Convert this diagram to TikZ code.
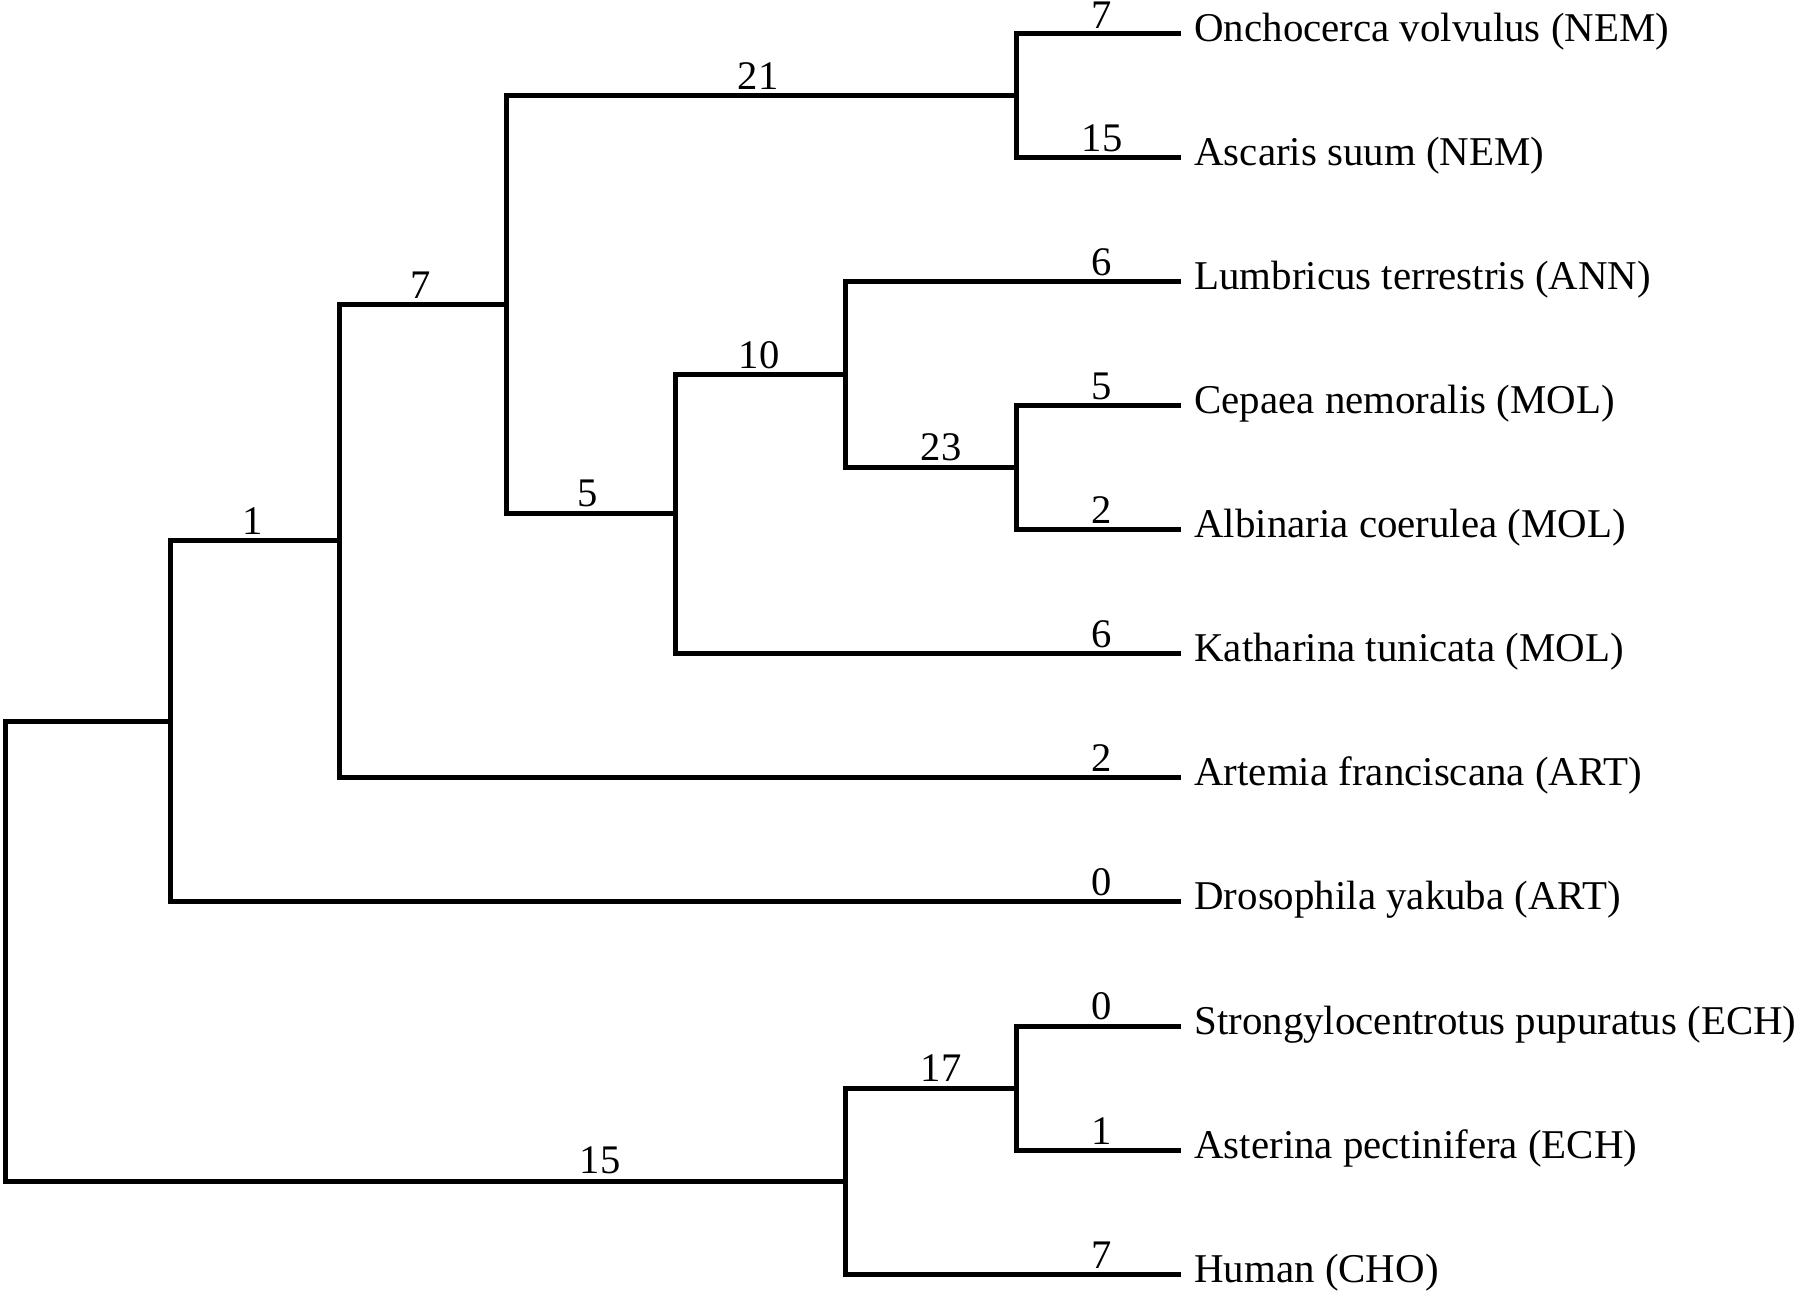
\documentclass[tikz,border=0pt]{standalone}
\usepackage{fontspec}
\setmainfont{Liberation Serif}
\begin{document}
\begin{tikzpicture}[x=0.5pt,y=-0.5pt,
  br/.style={line width=2.5pt, line join=miter},
  leaflab/.style={anchor=base west, inner sep=0pt, font=\fontsize{20.45pt}{24pt}\selectfont},
  num/.style={anchor=base, inner sep=0pt, font=\fontsize{20.3pt}{24pt}\selectfont}]
\useasboundingbox (0,0) rectangle (1800,1293);
% leaf tips
\coordinate (L1) at (1181,34);
\coordinate (L2) at (1181,158);
\coordinate (L3) at (1181,282);
\coordinate (L4) at (1181,406);
\coordinate (L5) at (1181,530);
\coordinate (L6) at (1181,654);
\coordinate (L7) at (1181,778);
\coordinate (L8) at (1181,902);
\coordinate (L9) at (1181,1026);
\coordinate (L10) at (1181,1150);
\coordinate (L11) at (1181,1274);
% internal nodes
\coordinate (n21) at (1016,96);
\coordinate (n23) at (1016,468);
\coordinate (n10) at (845,375);
\coordinate (n5) at (675,514);
\coordinate (n7) at (506,305);
\coordinate (n1) at (339,541);
\coordinate (n0) at (170,722);
\coordinate (n17) at (1016,1088);
\coordinate (n15) at (845,1181);
\coordinate (root) at (5,951);
% branches
\draw[br] (n21) |- (L1);
\draw[br] (n21) |- (L2);
\draw[br] (n7) |- (n21);
\draw[br] (n7) |- (n5);
\draw[br] (n5) |- (n10);
\draw[br] (n5) |- (L6);
\draw[br] (n10) |- (L3);
\draw[br] (n10) |- (n23);
\draw[br] (n23) |- (L4);
\draw[br] (n23) |- (L5);
\draw[br] (n1) |- (n7);
\draw[br] (n1) |- (L7);
\draw[br] (n0) |- (n1);
\draw[br] (n0) |- (L8);
\draw[br] (root) |- (n0);
\draw[br] (root) |- (n15);
\draw[br] (n15) |- (n17);
\draw[br] (n15) |- (L11);
\draw[br] (n17) |- (L9);
\draw[br] (n17) |- (L10);
% leaf labels
\node[leaflab] (t1) at (1194,42) {Onchocerca volvulus (NEM)};
\node[leaflab] (t2) at (1194,166) {Ascaris suum (NEM)};
\node[leaflab] (t3) at (1194,290) {Lumbricus terrestris (ANN)};
\node[leaflab] (t4) at (1194,414) {Cepaea nemoralis (MOL)};
\node[leaflab] (t5) at (1194,538) {Albinaria coerulea (MOL)};
\node[leaflab] (t6) at (1194,662) {Katharina tunicata (MOL)};
\node[leaflab] (t7) at (1194,786) {Artemia franciscana (ART)};
\node[leaflab] (t8) at (1194,910) {Drosophila yakuba (ART)};
\node[leaflab] (t9) at (1194,1034) {Strongylocentrotus pupuratus (ECH)};
\node[leaflab] (t10) at (1194,1158) {Asterina pectinifera (ECH)};
\node[leaflab] (t11) at (1194,1282) {Human (CHO)};
% branch lengths
\node[num] (b1) at (1102,29) {7};
\node[num] (b2) at (1102,152) {15};
\node[num] (b3) at (1102,276) {6};
\node[num] (b4) at (1102,400) {5};
\node[num] (b5) at (1102,524) {2};
\node[num] (b6) at (1102,648) {6};
\node[num] (b7) at (1102,772) {2};
\node[num] (b8) at (1102,896) {0};
\node[num] (b9) at (1102,1020) {0};
\node[num] (b10) at (1102,1144) {1};
\node[num] (b11) at (1102,1268) {7};
\node[num] (c21) at (758,90) {21};
\node[num] (c7) at (421,299) {7};
\node[num] (c1) at (253,535) {1};
\node[num] (c5) at (588,507) {5};
\node[num] (c10) at (759,369) {10};
\node[num] (c23) at (941,461) {23};
\node[num] (c17) at (941,1081) {17};
\node[num] (c15) at (600,1173) {15};
\end{tikzpicture}
\end{document}
